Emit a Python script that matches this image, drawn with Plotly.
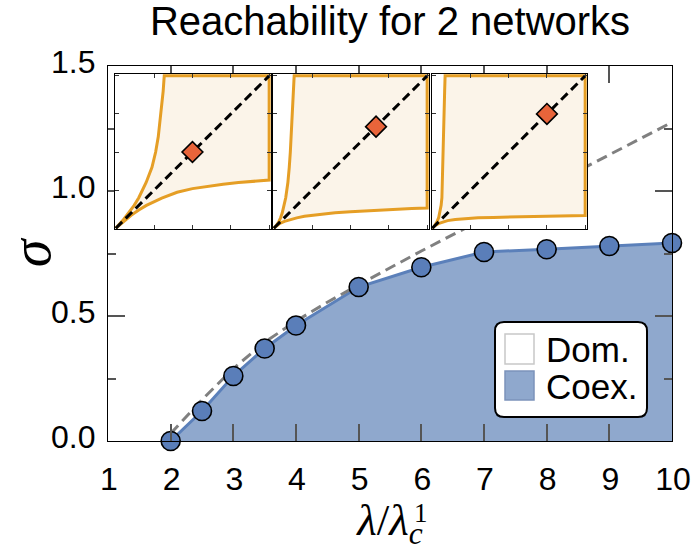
import plotly.graph_objects as go

# ---------------- data ----------------
# simulated coexistence threshold vs. infection-rate ratio
lam_ratio = [2.0, 2.5, 3.0, 3.5, 4.0, 5.0, 6.0, 7.0, 8.0, 9.0, 10.0]
sigma_sim = [0.0, 0.12, 0.26, 0.37, 0.462, 0.616, 0.695, 0.756, 0.767, 0.78, 0.792]

# analytical estimate (gray dashed)
lam_theory = [2.0, 2.5, 3.0, 3.5, 4.0, 4.5, 5.0, 6.0, 7.0, 8.0, 9.0, 10.0]
sigma_theory = [0.03, 0.165, 0.29, 0.395, 0.48, 0.555, 0.625, 0.76, 0.89, 1.015, 1.145, 1.275]

# reachable region boundaries for the three inset panels (lower branch;
# the upper branch is its mirror image across the diagonal)
inset_u = [
    [0, 0.05, 0.1, 0.15, 0.2, 0.3, 0.4, 0.5, 0.6, 0.7, 0.8, 0.9, 1.0],
    [0, 0.02, 0.04, 0.07, 0.1, 0.15, 0.2, 0.3, 0.4, 0.5, 0.6, 0.7, 0.8, 0.9, 1.0],
    [0, 0.01, 0.02, 0.04, 0.07, 0.1, 0.15, 0.2, 0.3, 0.4, 0.5, 0.6, 0.7, 0.8, 0.9, 1.0],
]
inset_v = [
    [0, 0.045, 0.085, 0.12, 0.15, 0.198, 0.236, 0.26, 0.277, 0.289, 0.3, 0.309, 0.316],
    [0, 0.018, 0.032, 0.045, 0.055, 0.068, 0.078, 0.092, 0.101, 0.108, 0.114, 0.119, 0.124, 0.129, 0.133],
    [0, 0.01, 0.018, 0.03, 0.042, 0.05, 0.058, 0.063, 0.068, 0.071, 0.073, 0.075, 0.077, 0.079, 0.081, 0.084],
]
# operating point on the diagonal for each panel
inset_point = [0.5, 2 / 3, 0.75]

x_ticks = [1, 2, 3, 4, 5, 6, 7, 8, 9, 10]
y_ticks = [0.0, 0.5, 1.0, 1.5]
y_ticklabels = ["0.0", "0.5", "1.0", "1.5"]
legend_labels = ["Dom.", "Coex."]

# ---------------- styling ----------------
W_FIG, H_FIG = 691, 551
M_L, M_R, M_T, M_B = 108, 19, 66, 110
PW, PH = W_FIG - M_L - M_R, H_FIG - M_T - M_B

BLUE_FILL = "#8FA8CD"
BLUE_LINE = "#5B80BA"
BLUE_MARK = "#5A7EB9"
ORANGE = "#E59E25"
BEIGE = "#FBF4E9"
DIAMOND = "#E8643A"
SANS = "Liberation Sans, Arial, sans-serif"
SERIF = "Liberation Serif, DejaVu Serif, serif"


def fx(px):
    return (px - M_L) / PW


def fy(py):
    return (M_T + PH - py) / PH


fig = go.Figure()

# coexistence region
fig.add_trace(go.Scatter(
    x=lam_ratio, y=sigma_sim, mode="lines", fill="tozeroy",
    fillcolor=BLUE_FILL, line=dict(color=BLUE_LINE, width=3),
    showlegend=False, hoverinfo="skip"))

# analytical curve
fig.add_trace(go.Scatter(
    x=lam_theory, y=sigma_theory, mode="lines",
    line=dict(color="#808080", width=3, dash="11px,6px"),
    showlegend=False))

# simulation points
fig.add_trace(go.Scatter(
    x=lam_ratio, y=sigma_sim, mode="markers",
    marker=dict(size=19, color=BLUE_MARK, line=dict(color="black", width=1.6)),
    showlegend=False, cliponaxis=False))

axis_common = dict(
    showgrid=False, zeroline=False, showline=True, linecolor="black",
    linewidth=1.2, mirror="ticks", ticks="inside", tickcolor="#555",
    tickwidth=1.5, ticklen=17, automargin=False,
    tickfont=dict(family=SANS, size=32, color="black"),
)

layout = dict(
    width=W_FIG, height=H_FIG, autosize=False,
    margin=dict(l=M_L, r=M_R, t=M_T, b=M_B),
    paper_bgcolor="white", plot_bgcolor="white", showlegend=False,
    title=dict(text="Reachability for 2 networks", x=0.5, xref="paper",
               xanchor="center", y=1 - 21 / H_FIG, yref="container",
               yanchor="middle",
               font=dict(family=SANS, size=40, color="black")),
    xaxis=dict(axis_common, range=[1, 10], tickvals=x_ticks,
               ticklabelshift=1, ticklabelstandoff=9,
               ticklabeloverflow="allow",
               title=dict(text="<i>λ</i>/<i>λ</i><sub><i>c</i></sub>",
                          font=dict(family=SERIF, size=45, color="black"),
                          standoff=6)),
    yaxis=dict(axis_common, range=[0, 1.5], tickvals=y_ticks,
               ticktext=y_ticklabels, ticklabelshift=-4,
               ticklabelstandoff=5, ticklabeloverflow="allow",
               minor=dict(dtick=0.25, ticks="inside", ticklen=8,
                          tickcolor="#555", tickwidth=1.5),
               title=dict(text="<i>σ</i>",
                          font=dict(family=SERIF, size=56, color="black"),
                          standoff=24)),
)

# inset panels
inset_x_px = [(115, 271), (273, 429), (431.5, 587)]
inset_y_px = (74, 229)
for k in range(3):
    n = k + 2
    xa, ya = f"xaxis{n}", f"yaxis{n}"
    u, v = inset_u[k], inset_v[k]
    poly_x = u + [1.0] + v[::-1]
    poly_y = v + [1.0] + u[::-1]
    fig.add_trace(go.Scatter(
        x=poly_x, y=poly_y, mode="lines", fill="toself", fillcolor=BEIGE,
        line=dict(color=ORANGE, width=3), xaxis=f"x{n}", yaxis=f"y{n}",
        showlegend=False, hoverinfo="skip"))
    fig.add_trace(go.Scatter(
        x=[0, 1], y=[0, 1], mode="lines",
        line=dict(color="black", width=3, dash="9px,5px"),
        xaxis=f"x{n}", yaxis=f"y{n}", showlegend=False))
    p = inset_point[k]
    fig.add_trace(go.Scatter(
        x=[p], y=[p], mode="markers",
        marker=dict(symbol="diamond", size=16, color=DIAMOND,
                    line=dict(color="black", width=1.6)),
        xaxis=f"x{n}", yaxis=f"y{n}", showlegend=False))
    inset_axis = dict(
        showgrid=False, zeroline=False, showline=True, linecolor="black",
        linewidth=1, mirror="ticks", ticks="inside", ticklen=4,
        tickcolor="#333", tickwidth=1, dtick=0.25, showticklabels=False,
        range=[-0.005, 1.012], fixedrange=True, automargin=False)
    layout[xa] = dict(inset_axis, domain=[fx(inset_x_px[k][0]), fx(inset_x_px[k][1])],
                      anchor=f"y{n}")
    layout[ya] = dict(inset_axis, domain=[fy(inset_y_px[1]), fy(inset_y_px[0])],
                      anchor=f"x{n}")

fig.update_layout(**layout)


# legend drawn as a rounded box with swatches
def rounded_rect(x0, y0, x1, y1, r):
    rx, ry = r / PW, r / PH
    X0, X1 = fx(x0), fx(x1)
    Yt, Yb = fy(y0), fy(y1)
    return (f"M {X0 + rx},{Yt} L {X1 - rx},{Yt} Q {X1},{Yt} {X1},{Yt - ry} "
            f"L {X1},{Yb + ry} Q {X1},{Yb} {X1 - rx},{Yb} "
            f"L {X0 + rx},{Yb} Q {X0},{Yb} {X0},{Yb + ry} "
            f"L {X0},{Yt - ry} Q {X0},{Yt} {X0 + rx},{Yt} Z")


shapes = [
    dict(type="path", xref="paper", yref="paper",
         path=rounded_rect(495, 322, 647, 417, 9),
         fillcolor="white", line=dict(color="black", width=2), layer="above"),
    dict(type="rect", xref="paper", yref="paper",
         x0=fx(505), x1=fx(534), y0=fy(364), y1=fy(334),
         fillcolor="white", line=dict(color="#C8C8C8", width=1.5), layer="above"),
    dict(type="rect", xref="paper", yref="paper",
         x0=fx(505), x1=fx(534), y0=fy(400), y1=fy(371),
         fillcolor=BLUE_FILL, line=dict(color="#7C93BA", width=1.5), layer="above"),
]
annotations = []
for label, cy in zip(legend_labels, [349, 386]):
    annotations.append(dict(
        text=label, xref="paper", yref="paper", x=fx(544), y=fy(cy),
        xanchor="left", yanchor="middle", showarrow=False,
        font=dict(family=SANS, size=35, color="black")))

# superscript of the critical rate, stacked over the subscript c
annotations.append(dict(
    text="1", xref="paper", yref="paper", x=fx(412), y=fy(513),
    xanchor="left", yanchor="middle", showarrow=False,
    font=dict(family=SERIF, size=27, color="black")))

fig.update_layout(shapes=shapes, annotations=annotations)

fig.write_html("out.html")
